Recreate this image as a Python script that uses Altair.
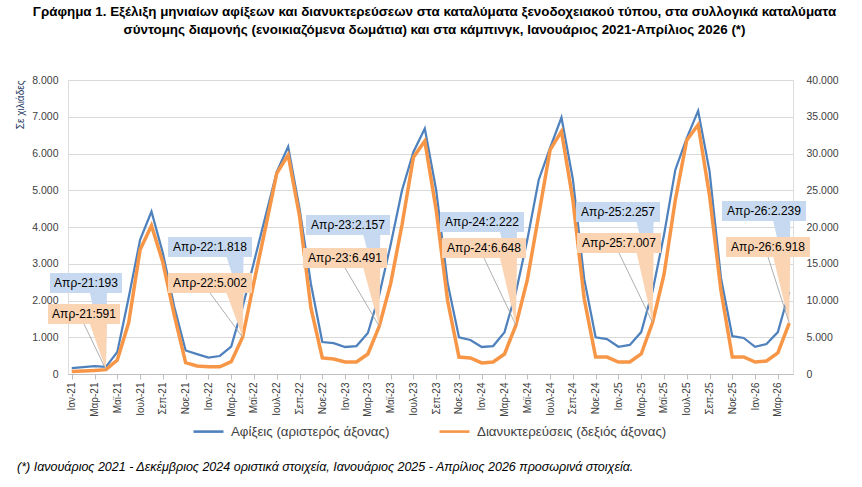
import altair as alt
import pandas as pd

# ---------------------------------------------------------------- data
MONTHS_GR = ["Ιαν", "Φεβ", "Μαρ", "Απρ", "Μαϊ", "Ιουν", "Ιουλ", "Αυγ", "Σεπ", "Οκτ", "Νοε", "Δεκ"]
YEARS = [21, 22, 23, 24, 25, 26]
month_labels = [f"{m}-{y}" for y in YEARS for m in MONTHS_GR][:64]

# Αφίξεις (χιλιάδες), Ιαν-21 ... Απρ-26
arrivals = [
    160, 185, 215, 193, 600, 2080, 3650, 4420, 3290, 1830, 640, 540,
    445, 490, 745, 1818, 3050, 4280, 5500, 6185, 4500, 2450, 870, 840,
    735, 760, 1115, 2157, 3520, 5000, 6040, 6680, 5000, 2480, 1000, 925,
    735, 760, 1140, 2222, 3650, 5280, 6150, 6980, 5300, 2580, 1000, 950,
    740, 790, 1140, 2257, 3780, 5560, 6420, 7160, 5520, 2620, 1030, 980,
    740, 816, 1140, 2239,
]

# Διανυκτερεύσεις (χιλιάδες), Ιαν-21 ... Απρ-26
nights = [
    330, 400, 480, 591, 1900, 7000, 16900, 20200, 15200, 8000, 1550, 1100,
    980, 980, 1680, 5002, 12500, 19800, 27300, 29800, 21500, 9000, 2180, 2040,
    1630, 1630, 2720, 6491, 12300, 20300, 29500, 31700, 22300, 10000, 2300, 2180,
    1500, 1630, 2720, 6648, 12800, 21600, 30500, 33000, 23700, 10200, 2310, 2300,
    1630, 1630, 2720, 7007, 13500, 23700, 31800, 33900, 24300, 11400, 2310, 2310,
    1630, 1770, 2860, 6918,
]

SERIES_A = "Αφίξεις (αριστερός άξονας)"
SERIES_N = "Διανυκτερεύσεις (δεξιός άξονας)"

# months that carry a value callout
callout_months = ["Απρ-21", "Απρ-22", "Απρ-23", "Απρ-24", "Απρ-25", "Απρ-26"]

TITLE = [
    "Γράφημα 1. Εξέλιξη μηνιαίων αφίξεων και διανυκτερεύσεων στα καταλύματα ξενοδοχειακού τύπου, στα συλλογικά καταλύματα",
    "σύντομης διαμονής (ενοικιαζόμενα δωμάτια) και στα κάμπινγκ, Ιανουάριος 2021-Απρίλιος 2026 (*)",
]
FOOTNOTE = ("(*) Ιανουάριος 2021 - Δεκέμβριος 2024 οριστικά στοιχεία, "
            "Ιανουάριος 2025 - Απρίλιος 2026 προσωρινά στοιχεία.")

# ---------------------------------------------------------------- layout
W, H = 725, 294            # plot area
X0, Y0 = 68, 80            # plot origin on the page
PAGE_W, PAGE_H = 862, 487
XDOM = [-0.33, 63.33]
LEFT_MAX, RIGHT_MAX = 8000, 40000
RATIO = RIGHT_MAX / LEFT_MAX

BLUE = "#4F81BD"
ORANGE = "#F79646"
BLUE_FILL = "#C6D9F0"
ORANGE_FILL = "#FBD4B4"
FONT = "Liberation Sans, Arial, sans-serif"
TEXT_COL = "#404040"

# callout box centres (page pixels) and size
blue_box_centres = [(86, 283), (210, 247), (348, 225), (482, 222), (618, 212), (764, 211)]
orange_box_centres = [(84, 314), (210, 283), (345, 258), (484, 248), (619, 243), (768, 247)]
BOX_H = 20


def gr(n):
    return f"{n:,}".replace(",", ".")


def px_to_idx(px):
    return XDOM[0] + (px - X0) / W * (XDOM[1] - XDOM[0])


def idx_to_px(i):
    return X0 + (i - XDOM[0]) / (XDOM[1] - XDOM[0]) * W


def py_to_left(py):
    return (Y0 + H - py) / H * LEFT_MAX


def triangle_rows(ax, bx, by, px, py, cid):
    verts = [(ax, by), (bx, by), (px, py)]
    edges = [(verts[0], verts[1]), (verts[1], verts[2]), (verts[2], verts[0])]
    rows = []
    for vx in sorted(v[0] for v in verts):
        ys = []
        for (x1, y1), (x2, y2) in edges:
            if min(x1, x2) - 1e-9 <= vx <= max(x1, x2) + 1e-9:
                if abs(x2 - x1) < 1e-12:
                    ys += [y1, y2]
                else:
                    ys.append(y1 + (y2 - y1) * (vx - x1) / (x2 - x1))
        rows.append({"id": cid, "x": vx, "ylo": min(ys), "yhi": max(ys)})
    return rows


# ---------------------------------------------------------------- tables
n = len(month_labels)
blue_df = pd.DataFrame({"idx": range(n), "v": arrivals, "series": SERIES_A})
orange_df = pd.DataFrame({"idx": range(n), "v": nights, "series": SERIES_N})

boxes, wedges, texts, leaders = [], [], [], []
for k, m in enumerate(callout_months):
    i = month_labels.index(m)
    apex_px = idx_to_px(i)
    for kind, val, scale_val, centre in (
        ("a", arrivals[i], arrivals[i], blue_box_centres[k]),
        ("n", nights[i], nights[i] / RATIO, orange_box_centres[k]),
    ):
        label = f"{m}:{gr(val)}"
        bw = 12 + 6.0 * len(label)
        cx, cy = centre
        x0, x1 = px_to_idx(cx - bw / 2), px_to_idx(cx + bw / 2)
        y_top, y_bot = py_to_left(cy - BOX_H / 2), py_to_left(cy + BOX_H / 2)
        boxes.append({"kind": kind, "x0": x0, "x1": x1, "y0": y_bot, "y1": y_top})
        texts.append({"kind": kind, "x": px_to_idx(cx), "y": py_to_left(cy), "t": label})
        base_a = max(px_to_idx(apex_px - 16), x0)
        base_b = min(px_to_idx(apex_px + 1), x1)
        for r in triangle_rows(base_a, base_b, y_bot, i, scale_val, f"{kind}{k}"):
            r["kind"] = kind
            wedges.append(r)
        if kind == "n":
            leaders.append({"x": px_to_idx(cx), "y": y_bot, "x2": i, "y2": scale_val})

boxes_df = pd.DataFrame(boxes)
wedges_df = pd.DataFrame(wedges)
texts_df = pd.DataFrame(texts)
leaders_df = pd.DataFrame(leaders)

# ---------------------------------------------------------------- encodings
js_labels = "[" + ",".join(f"'{s}'" for s in month_labels) + "]"
x_axis = alt.Axis(
    values=list(range(0, n, 2)), labelExpr=f"{js_labels}[datum.value]",
    labelAngle=-90, labelFontSize=10, labelColor=TEXT_COL, labelFont=FONT,
    labelOverlap=False, labelFlush=False, labelBound=False, labelPadding=3,
    tickSize=5, tickColor="#BFBFBF", domainColor="#BFBFBF", grid=False, title=None,
)
x_scale = alt.Scale(domain=XDOM, nice=False, zero=False)


def X(field):
    return alt.X(f"{field}:Q", scale=x_scale, axis=x_axis, title=None)


def Y_left(field, axis=None):
    return alt.Y(f"{field}:Q", scale=alt.Scale(domain=[0, LEFT_MAX], nice=False, zero=True),
                 axis=axis, title=None)


greek_num = "replace(format(datum.value, ','), ',', '.')"
left_axis = alt.Axis(
    values=list(range(0, LEFT_MAX + 1, 1000)), labelExpr=greek_num,
    grid=True, gridColor="#D9D9D9", domain=False, ticks=False,
    labelPadding=10, labelFontSize=10.5, labelColor=TEXT_COL, labelFont=FONT,
    title="Σε χιλιάδες", titleFontSize=10, titleFontWeight="normal", titleFont=FONT,
    titleAnchor="end", titleColor="#1F3864", titlePadding=6,
)
right_axis = alt.Axis(
    orient="right", values=list(range(0, RIGHT_MAX + 1, 5000)), labelExpr=greek_num,
    grid=False, domain=False, ticks=False, labelPadding=13,
    labelFontSize=10.5, labelColor=TEXT_COL, labelFont=FONT, title=None,
)

color = alt.Color(
    "series:N",
    scale=alt.Scale(domain=[SERIES_A, SERIES_N], range=[BLUE, ORANGE]),
    legend=alt.Legend(
        title=None, orient="none", legendX=124, legendY=335, direction="horizontal",
        symbolType="stroke", symbolSize=900, symbolStrokeWidth=2.6,
        labelFontSize=13.3, labelFont=FONT, labelColor=TEXT_COL, columnPadding=44,
        labelOffset=6, labelLimit=400,
    ),
)

blue_line = alt.Chart(blue_df).mark_line(strokeWidth=2.25).encode(
    x=X("idx"), y=Y_left("v", left_axis), color=color,
)
orange_line = alt.Chart(orange_df).mark_line(strokeWidth=3.5).encode(
    x=X("idx"),
    y=alt.Y("v:Q", scale=alt.Scale(domain=[0, RIGHT_MAX], nice=False, zero=True),
            axis=right_axis, title=None),
    color=color,
)


def wedge_layer(kind, fill):
    return alt.Chart(wedges_df[wedges_df.kind == kind]).mark_area(
        fill=fill, opacity=1, stroke=None
    ).encode(x=X("x"), y=Y_left("ylo"), y2="yhi:Q", detail="id:N")


def box_layer(kind, fill):
    return alt.Chart(boxes_df[boxes_df.kind == kind]).mark_rect(fill=fill).encode(
        x=X("x0"), x2="x1:Q", y=Y_left("y0"), y2="y1:Q"
    )


def text_layer(kind):
    return alt.Chart(texts_df[texts_df.kind == kind]).mark_text(
        fontSize=12, font=FONT, color="black", align="center", baseline="middle"
    ).encode(x=X("x"), y=Y_left("y"), text="t:N")


leader_layer = alt.Chart(leaders_df).mark_rule(color="#A6A6A6", strokeWidth=0.9).encode(
    x=X("x"), y=Y_left("y"), x2="x2:Q", y2="y2:Q"
)

footnote = alt.Chart(pd.DataFrame({"t": [FOOTNOTE]})).mark_text(
    fontSize=12.5, font=FONT, fontStyle="italic", color="black", align="left", baseline="middle"
).encode(x=alt.value(17 - X0), y=alt.value(467 - Y0), text="t:N")

chart = alt.layer(
    blue_line, orange_line,
    wedge_layer("a", BLUE_FILL), box_layer("a", BLUE_FILL),
    wedge_layer("n", ORANGE_FILL), box_layer("n", ORANGE_FILL),
    leader_layer, text_layer("a"), text_layer("n"), footnote,
).resolve_scale(y="independent").properties(
    width=W, height=H,
    autosize=alt.AutoSizeParams(type="none"),
    padding={"left": X0, "top": Y0, "right": PAGE_W - X0 - W, "bottom": PAGE_H - Y0 - H},
    title=alt.Title(
        text=TITLE, fontSize=13.4, font=FONT,
        fontWeight="bold", color="black", anchor="middle", offset=39, lineHeight=18, dx=4,
    ),
).configure_view(stroke=None).configure(background="white")

chart.save("out.html", embed_options={"renderer": "svg", "actions": False})
